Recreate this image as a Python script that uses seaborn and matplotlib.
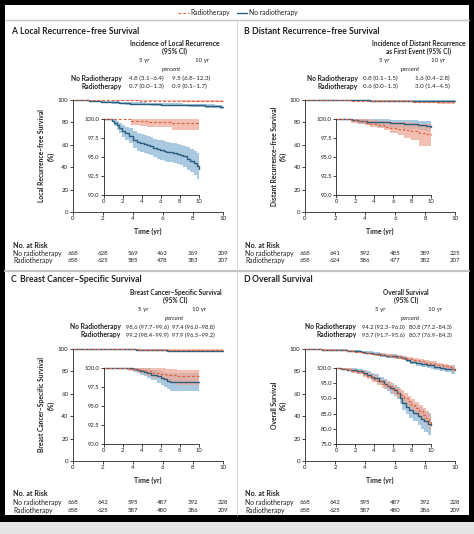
import matplotlib
matplotlib.use("Agg")
import matplotlib.pyplot as plt
from matplotlib.lines import Line2D
from matplotlib.patches import Rectangle
from matplotlib.ticker import FormatStrFormatter
from matplotlib.transforms import blended_transform_factory
import seaborn as sns

W, H = 474, 534

# ---------- data ----------
years = [0, 2, 4, 6, 8, 10]

# A: local recurrence-free survival
a_t_norx  = [0, 0.8, 1.1, 1.35, 1.6, 1.9, 2.2, 2.6, 3.1, 3.5, 3.8, 4.2, 4.5, 4.9, 5.2, 5.6, 5.9, 6.3, 6.6, 7.0, 7.35, 7.7, 8.05, 8.4, 8.8, 9.1, 9.5, 9.8, 10.0]
a_s_norx  = [100, 99.8, 99.5, 99.2, 98.8, 98.4, 98.1, 97.8, 97.3, 97.0, 96.8, 96.7, 96.6, 96.4, 96.2, 96.0, 95.9, 95.8, 95.7, 95.6, 95.5, 95.4, 95.3, 95.1, 94.8, 94.5, 94.2, 93.8, 93.4]
a_hi_norx = [100, 100, 99.9, 99.8, 99.5, 99.2, 99.0, 98.8, 98.4, 98.2, 98.0, 97.9, 97.8, 97.6, 97.4, 97.3, 97.2, 97.1, 97.0, 96.9, 96.8, 96.7, 96.6, 96.5, 96.3, 96.0, 95.8, 95.5, 95.1]
a_lo_norx = [100, 99.6, 99.1, 98.6, 98.1, 97.6, 97.2, 96.8, 96.2, 95.8, 95.6, 95.5, 95.4, 95.2, 95.0, 94.7, 94.6, 94.5, 94.4, 94.3, 94.2, 94.1, 94.0, 93.7, 93.3, 93.0, 92.6, 92.1, 91.4]
a_t_rx    = [0, 2.9, 3.8, 4.5, 7.2, 10.0]
a_s_rx    = [100, 99.8, 99.7, 99.55, 99.45, 99.4]
a_hi_rx   = [100, 100, 100, 100, 99.95, 99.95]
a_lo_rx   = [100, 99.25, 99.1, 99.0, 98.5, 98.5]

# B: distant recurrence-free survival
b_t_norx  = [0, 1.7, 2.3, 3.3, 4.3, 5.7, 7.2, 8.6, 9.5, 10.0]
b_s_norx  = [100, 99.85, 99.75, 99.65, 99.55, 99.45, 99.35, 99.25, 99.1, 98.95]
b_hi_norx = [100, 100, 100, 100, 99.95, 99.9, 99.85, 99.8, 99.7, 99.6]
b_lo_norx = [100, 99.55, 99.35, 99.15, 99.0, 98.85, 98.7, 98.55, 98.4, 98.25]
b_t_rx    = [0, 1.6, 2.2, 3.0, 3.6, 4.3, 5.0, 5.7, 6.5, 7.2, 7.9, 8.8, 9.5, 10.0]
b_s_rx    = [100, 99.85, 99.7, 99.5, 99.3, 99.15, 99.0, 98.85, 98.7, 98.55, 98.4, 98.15, 98.0, 97.9]
b_hi_rx   = [100, 100, 100, 100, 99.9, 99.8, 99.7, 99.65, 99.6, 99.55, 99.5, 99.4, 99.3, 99.25]
b_lo_rx   = [100, 99.5, 99.35, 99.2, 99.0, 98.8, 98.5, 98.15, 97.9, 97.5, 97.2, 96.5, 96.4, 96.4]

# C: breast cancer-specific survival
c_t_norx  = [0, 2.4, 3.1, 3.5, 3.8, 4.2, 4.5, 5.0, 5.6, 6.0, 6.3, 6.7, 7.0, 10.0]
c_s_norx  = [100, 99.95, 99.85, 99.75, 99.65, 99.5, 99.35, 99.1, 98.9, 98.7, 98.5, 98.35, 98.2, 98.2]
c_hi_norx = [100, 100, 100, 100, 100, 100, 99.95, 99.8, 99.7, 99.6, 99.5, 99.4, 99.3, 99.3]
c_lo_norx = [100, 99.8, 99.5, 99.3, 99.1, 98.9, 98.7, 98.4, 98.05, 97.8, 97.5, 97.25, 97.0, 97.0]
c_t_rx    = [0, 2.6, 3.6, 4.4, 5.2, 6.0, 6.6, 7.7, 10.0]
c_s_rx    = [100, 99.9, 99.75, 99.55, 99.35, 99.2, 99.05, 98.9, 98.9]
c_hi_rx   = [100, 100, 100, 100, 100, 99.95, 99.85, 99.75, 99.75]
c_lo_rx   = [100, 99.6, 99.3, 99.0, 98.7, 98.4, 98.2, 97.8, 97.8]

# D: overall survival
d_t_norx  = [0, 0.5, 1.1, 1.6, 2.2, 2.8, 3.3, 3.7, 4.0, 4.5, 5.0, 5.4, 5.7, 6.1, 6.45, 6.7, 7.0, 7.4, 7.7, 8.1, 8.6, 9.0, 9.3, 9.7, 10.0]
d_s_norx  = [100, 99.8, 99.5, 99.2, 98.9, 98.4, 97.8, 97.2, 96.7, 95.8, 94.7, 94.0, 93.4, 92.6, 91.8, 90.2, 88.5, 87.3, 86.3, 85.3, 84.1, 83.2, 82.5, 81.7, 81.1]
d_hi_norx = [100, 100, 100, 99.9, 99.7, 99.3, 98.9, 98.4, 98.0, 97.2, 96.3, 95.7, 95.2, 94.5, 93.8, 92.4, 90.8, 89.8, 88.9, 88.1, 87.1, 86.4, 85.9, 85.3, 84.7]
d_lo_norx = [100, 99.5, 99.0, 98.5, 98.1, 97.5, 96.7, 96.0, 95.4, 94.4, 93.1, 92.3, 91.6, 90.7, 89.8, 88.0, 86.2, 84.8, 83.7, 82.5, 81.1, 80.0, 79.1, 78.1, 77.5]
d_t_rx    = [0, 0.6, 1.1, 1.7, 2.2, 2.8, 3.3, 3.8, 4.3, 4.8, 5.4, 5.9, 6.45, 6.8, 7.2, 7.6, 7.9, 8.3, 8.8, 9.2, 9.5, 9.8, 10.0]
d_s_rx    = [100, 99.8, 99.5, 99.1, 98.7, 98.0, 97.3, 96.5, 95.6, 94.8, 94.0, 93.0, 91.8, 91.0, 90.1, 89.0, 87.9, 86.8, 85.7, 84.6, 83.5, 82.3, 81.4]
d_hi_rx   = [100, 100, 99.9, 99.7, 99.4, 98.9, 98.3, 97.6, 96.8, 96.1, 95.4, 94.5, 93.4, 92.7, 91.9, 90.9, 89.9, 88.9, 87.9, 86.9, 85.9, 84.8, 84.0]
d_lo_rx   = [100, 99.5, 99.0, 98.5, 98.0, 97.1, 96.3, 95.4, 94.4, 93.5, 92.6, 91.5, 90.2, 89.3, 88.3, 87.1, 85.9, 84.7, 83.5, 82.3, 81.1, 79.8, 78.8]

# tables and risk sets
titles  = ["Local Recurrence\u2013free Survival", "Distant Recurrence\u2013free Survival",
           "Breast Cancer\u2013Specific Survival", "Overall Survival"]
letters = ["A", "B", "C", "D"]
headers = [["Incidence of Local Recurrence", "(95% CI)"],
           ["Incidence of Distant Recurrence", "as First Event (95% CI)"],
           ["Breast Cancer\u2013Specific Survival", "(95% CI)"],
           ["Overall Survival", "(95% CI)"]]
tab_norx = [["4.8 (3.1\u20136.4)", "9.5 (6.8\u201312.3)"],
            ["0.8 (0.1\u20131.5)", "1.6 (0.4\u20132.8)"],
            ["98.6 (97.7\u201399.6)", "97.4 (96.0\u201398.8)"],
            ["94.2 (92.3\u201396.0)", "80.8 (77.2\u201384.3)"]]
tab_rx   = [["0.7 (0.0\u20131.3)", "0.9 (0.1\u20131.7)"],
            ["0.6 (0.0\u20131.3)", "3.0 (1.4\u20134.5)"],
            ["99.2 (98.4\u201399.9)", "97.9 (96.5\u201399.2)"],
            ["93.7 (91.7\u201395.6)", "80.7 (76.9\u201384.3)"]]
ylabels = ["Local Recurrence\u2013free Survival\n(%)", "Distant Recurrence\u2013free Survival\n(%)",
           "Breast Cancer\u2013Specific Survival\n(%)", "Overall Survival\n(%)"]
risk_norx = [[668, 628, 569, 463, 369, 209],
             [668, 641, 592, 485, 389, 225],
             [668, 642, 595, 487, 392, 228],
             [668, 642, 595, 487, 392, 228]]
risk_rx   = [[658, 625, 585, 478, 383, 207],
             [658, 624, 586, 477, 382, 207],
             [658, 625, 587, 480, 386, 209],
             [658, 625, 587, 480, 386, 209]]

curves = [
    ((a_t_norx, a_s_norx, a_lo_norx, a_hi_norx), (a_t_rx, a_s_rx, a_lo_rx, a_hi_rx)),
    ((b_t_norx, b_s_norx, b_lo_norx, b_hi_norx), (b_t_rx, b_s_rx, b_lo_rx, b_hi_rx)),
    ((c_t_norx, c_s_norx, c_lo_norx, c_hi_norx), (c_t_rx, c_s_rx, c_lo_rx, c_hi_rx)),
    ((d_t_norx, d_s_norx, d_lo_norx, d_hi_norx), (d_t_rx, d_s_rx, d_lo_rx, d_hi_rx)),
]
inset_ylim   = [(90, 100), (90, 100), (90, 100), (75, 100)]
inset_yticks = [[90, 92.5, 95, 97.5, 100]] * 3 + [[75, 80, 85, 90, 95, 100]]

# ---------- style ----------
sns.set_style("ticks")
plt.rcParams['font.family'] = ['Lato', 'DejaVu Sans']

BLUE, BLUE_F = "#2b5d7d", "#93bcd8"
RED, RED_F = "#e0603c", "#f0aa98"
INK = "#222222"

fig = plt.figure(figsize=(W / 100, H / 100), dpi=100)
fig.patch.set_facecolor("black")
fig.add_artist(Rectangle((5 / W, 1 - 515 / H), 464 / W, 510 / H, transform=fig.transFigure,
                         facecolor="white", edgecolor="none", zorder=-5))
fig.add_artist(Rectangle((0, 0), 1, 12 / H, transform=fig.transFigure,
                         facecolor="#e4e4e4", edgecolor="none", zorder=-5))


def fx(x):
    return x / W


def fy(y):
    return 1 - y / H


def rect(x0, y0, x1, y1):
    return [fx(x0), fy(y1), (x1 - x0) / W, (y1 - y0) / H]


def hline(y, x0, x1, lw=1.0, color="#c4c4c4"):
    fig.add_artist(Line2D([fx(x0), fx(x1)], [fy(y), fy(y)], transform=fig.transFigure, color=color, lw=lw))


# separators
hline(20, 5, 469)
hline(271, 5, 469, lw=1.6)
fig.add_artist(Line2D([fx(236.5), fx(236.5)], [fy(20), fy(515)], transform=fig.transFigure,
                      color="#d0d0d0", lw=0.6))

# legend
fig.add_artist(Line2D([fx(178), fx(188.5)], [fy(13), fy(13)], transform=fig.transFigure,
                      color=RED, lw=0.8, linestyle=(0, (2.5, 1.8))))
fig.text(fx(190.5), fy(13), "Radiotherapy", fontsize=4.9, va="center", color=INK)
fig.add_artist(Line2D([fx(236.5), fx(247)], [fy(13), fy(13)], transform=fig.transFigure,
                      color=BLUE, lw=1.0))
fig.text(fx(249.5), fy(13), "No radiotherapy", fontsize=4.9, va="center", color=INK)

offsets = [(0, 0), (232.3, 0), (0, 249), (232.3, 249)]
# header centre, 5yr, 10yr, percent, row-label right edge, value col 1, value col 2
tab_x = [(175, 144, 202, 172, 122, 129, 172),
         (186, 152, 206, 178, 125.5, 131, 183),
         (175.5, 143, 199, 175, 121, 126, 172),
         (174, 148, 203, 178, 124, 129.5, 176.5)]
head_size = [4.9, 4.7, 4.7, 4.7]
val_size = [4.5, 4.5, 4.2, 4.2]


def style_axes(ax, size=4.0):
    sns.despine(ax=ax)
    for sp in ("left", "bottom"):
        ax.spines[sp].set_linewidth(0.6)
        ax.spines[sp].set_color(INK)
    ax.tick_params(direction="out", length=2, width=0.6, labelsize=size, pad=1.2, colors=INK)
    ax.set_xlabel("")
    ax.set_ylabel("")


def draw_curves(ax, pair):
    (tn, sn, ln, hn), (tr, sr, lr, hr) = pair
    ax.fill_between(tn, ln, hn, step="post", color=BLUE_F, alpha=0.8, lw=0)
    ax.fill_between(tr, lr, hr, step="post", color=RED_F, alpha=0.75, lw=0)
    sns.lineplot(x=tn, y=sn, ax=ax, color=BLUE, lw=1.0, drawstyle="steps-post",
                 estimator=None, errorbar=None, clip_on=False)
    sns.lineplot(x=tr, y=sr, ax=ax, color=RED, lw=0.8, drawstyle="steps-post",
                 linestyle=(0, (2.5, 1.8)), estimator=None, errorbar=None, clip_on=False)


for i in range(4):
    ox, oy = offsets[i]
    hx, x5, x10, xp, xr, xv1, xv2 = tab_x[i]

    # panel title
    fig.text(fx(11 + ox), fy(31 + oy), letters[i], fontsize=6.2, fontweight="bold", va="center", color=INK)
    fig.text(fx(20 + ox), fy(31 + oy), titles[i], fontsize=6.2, fontweight="bold", va="center", color=INK)

    # summary table
    fig.text(fx(hx + ox), fy(43.5 + oy), headers[i][0], fontsize=head_size[i], fontweight="bold", ha="center", va="center", color=INK)
    fig.text(fx(hx + ox), fy(51.5 + oy), headers[i][1], fontsize=head_size[i], fontweight="bold", ha="center", va="center", color=INK)
    fig.text(fx(x5 + ox), fy(61 + oy), "5 yr", fontsize=4.4, ha="center", va="center", color=INK)
    fig.text(fx(x10 + ox), fy(61 + oy), "10 yr", fontsize=4.4, ha="center", va="center", color=INK)
    fig.text(fx(xp + ox), fy(69 + oy), "percent", fontsize=4.4, style="italic", ha="center", va="center", color=INK)
    fig.text(fx(xr + ox), fy(78 + oy), "No Radiotherapy", fontsize=4.9, fontweight="bold", ha="right", va="center", color=INK)
    fig.text(fx(xr + ox), fy(86 + oy), "Radiotherapy", fontsize=4.9, fontweight="bold", ha="right", va="center", color=INK)
    fig.text(fx(xv1 + ox), fy(78 + oy), tab_norx[i][0], fontsize=val_size[i], va="center", color=INK)
    fig.text(fx(xv2 + ox), fy(78 + oy), tab_norx[i][1], fontsize=val_size[i], va="center", color=INK)
    fig.text(fx(xv1 + ox), fy(86 + oy), tab_rx[i][0], fontsize=val_size[i], va="center", color=INK)
    fig.text(fx(xv2 + ox), fy(86 + oy), tab_rx[i][1], fontsize=val_size[i], va="center", color=INK)

    # main axes
    ax = fig.add_axes(rect(72.7 + ox, 100 + oy, 222.7 + ox, 212 + oy))
    draw_curves(ax, curves[i])
    ax.set_xlim(0, 10)
    ax.set_ylim(0, 100)
    ax.set_xticks(years)
    ax.set_yticks([0, 20, 40, 60, 80, 100])
    style_axes(ax, 4.4)

    # inset
    ins = fig.add_axes(rect(104 + ox, 119 + oy, 198.5 + ox, 195 + oy))
    ins.set_facecolor("white")
    draw_curves(ins, curves[i])
    ins.set_xlim(0, 10)
    ins.set_ylim(*inset_ylim[i])
    ins.set_xticks(years)
    ins.set_yticks(inset_yticks[i])
    ins.yaxis.set_major_formatter(FormatStrFormatter("%.1f"))
    style_axes(ins, 4.2)

    # axis labels
    fig.text(fx(46.5 + ox), fy(156 + oy), ylabels[i], fontsize=4.9, fontweight="bold", rotation=90,
             ha="center", va="center", multialignment="center", linespacing=1.3, color=INK)
    fig.text(fx(147.7 + ox), fy(231.5 + oy), "Time (yr)", fontsize=5.0, fontweight="bold",
             ha="center", va="center", color=INK)

    # numbers at risk
    fig.text(fx(13 + ox), fy(245 + oy), "No. at Risk", fontsize=5.1, fontweight="bold", va="center", color=INK)
    fig.text(fx(13 + ox), fy(253.3 + oy), "No radiotherapy", fontsize=4.9, va="center", color=INK)
    fig.text(fx(13 + ox), fy(261 + oy), "Radiotherapy", fontsize=4.9, va="center", color=INK)
    tr = blended_transform_factory(ax.transData, fig.transFigure)
    for yr, n1, n2 in zip(years, risk_norx[i], risk_rx[i]):
        ax.text(yr, fy(253.3 + oy), str(n1), transform=tr, fontsize=4.4, ha="center", va="center", color=INK)
        ax.text(yr, fy(261 + oy), str(n2), transform=tr, fontsize=4.4, ha="center", va="center", color=INK)

fig.savefig("out.png", dpi=100, facecolor=fig.get_facecolor())
